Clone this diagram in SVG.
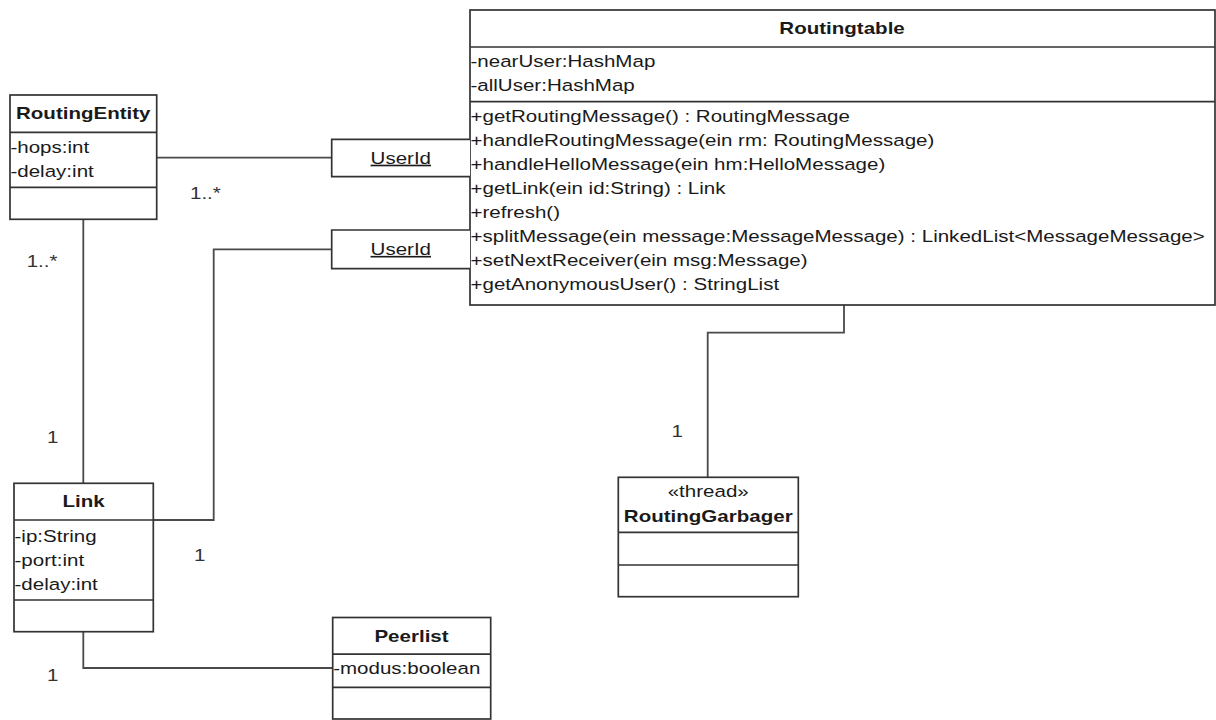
<svg xmlns="http://www.w3.org/2000/svg" width="1216" height="720" viewBox="0 0 1216 720">
  <style>
    .box { fill: #ffffff; stroke: #333333; stroke-width: 1.7; }
    .div { fill: none; stroke: #333333; stroke-width: 1.7; }
    .conn { fill: none; stroke: #4a4a4a; stroke-width: 1.8; }
    text { font-family: "Liberation Sans", Arial, sans-serif; font-size: 16.3px; fill: #1a1a1a; }
    .title { font-weight: bold; text-anchor: middle; }
    .mid { text-anchor: middle; }
    .mult { fill: #333333; }
    .ul { text-decoration: underline; }
  </style>
  <rect x="0" y="0" width="1216" height="720" fill="#ffffff"/>

  <!-- associations -->
  <g id="connectors">
    <path class="conn" d="M156.7 157.7 H331.7"/>
    <path class="conn" d="M83.3 219.3 V483.3"/>
    <path class="conn" d="M153.3 520 H213.7 V249.3 H331.7"/>
    <path class="conn" d="M83.3 631.7 V668 H332.7"/>
    <path class="conn" d="M844 305 V332.7 H707.7 V477.3"/>
    <g transform="scale(1.26 1)">
      <text class="mult" x="150.8" y="199">1..*</text>
      <text class="mult" x="21.2" y="267.5">1..*</text>
      <text class="mult" x="37.3" y="443.5">1</text>
      <text class="mult" x="154" y="561">1</text>
      <text class="mult" x="37.3" y="681">1</text>
      <text class="mult" x="533" y="437.5">1</text>
    </g>
  </g>

  <!-- Routingtable -->
  <g id="routingtable">
    <rect class="box" x="470" y="10" width="745" height="295"/>
    <path class="div" d="M470 47 H1215 M470 101.7 H1215"/>
    <g transform="scale(1.26 1)">
      <text class="title" x="668.3" y="34.3">Routingtable</text>
      <text x="373.4" y="67.4">-nearUser:HashMap</text>
      <text x="373.4" y="91.4">-allUser:HashMap</text>
      <text x="373.4" y="122">+getRoutingMessage() : RoutingMessage</text>
      <text x="373.4" y="146">+handleRoutingMessage(ein rm: RoutingMessage)</text>
      <text x="373.4" y="170">+handleHelloMessage(ein hm:HelloMessage)</text>
      <text x="373.4" y="194">+getLink(ein id:String) : Link</text>
      <text x="373.4" y="218">+refresh()</text>
      <text x="373.4" y="242">+splitMessage(ein message:MessageMessage) : LinkedList&lt;MessageMessage&gt;</text>
      <text x="373.4" y="266">+setNextReceiver(ein msg:Message)</text>
      <text x="373.4" y="290">+getAnonymousUser() : StringList</text>
    </g>
  </g>

  <!-- qualifier boxes on Routingtable -->
  <g id="qualifier-userid-1">
    <path class="box" d="M470 139.3 H331.7 V176.7 H470"/>
    <g transform="scale(1.26 1)">
      <text class="mid ul" x="318.1" y="163.8">UserId</text>
    </g>
  </g>
  <g id="qualifier-userid-2">
    <path class="box" d="M470 230 H331.7 V268.7 H470"/>
    <g transform="scale(1.26 1)">
      <text class="mid ul" x="318.1" y="255">UserId</text>
    </g>
  </g>

  <!-- RoutingEntity -->
  <g id="routingentity">
    <rect class="box" x="10" y="95" width="146.7" height="124.3"/>
    <path class="div" d="M10 132.3 H156.7 M10 187.3 H156.7"/>
    <g transform="scale(1.26 1)">
      <text class="title" x="66.1" y="119">RoutingEntity</text>
      <text x="8.3" y="152.7">-hops:int</text>
      <text x="8.3" y="176.7">-delay:int</text>
    </g>
  </g>

  <!-- Link -->
  <g id="link">
    <rect class="box" x="14" y="483.3" width="139.3" height="148.4"/>
    <path class="div" d="M14 520 H153.3 M14 600 H153.3"/>
    <g transform="scale(1.26 1)">
      <text class="title" x="66.4" y="506.7">Link</text>
      <text x="11.5" y="541.7">-ip:String</text>
      <text x="11.5" y="565.7">-port:int</text>
      <text x="11.5" y="589.7">-delay:int</text>
    </g>
  </g>

  <!-- Peerlist -->
  <g id="peerlist">
    <rect class="box" x="332.7" y="617.5" width="158" height="101.5"/>
    <path class="div" d="M332.7 654.2 H490.7 M332.7 687.3 H490.7"/>
    <g transform="scale(1.26 1)">
      <text class="title" x="326.6" y="641.7">Peerlist</text>
      <text x="264.4" y="674">-modus:boolean</text>
    </g>
  </g>

  <!-- RoutingGarbager -->
  <g id="routinggarbager">
    <rect class="box" x="618.3" y="477.3" width="180" height="119.4"/>
    <path class="div" d="M618.3 532.3 H798.3 M618.3 565 H798.3"/>
    <g transform="scale(1.26 1)">
      <text class="mid" x="562.1" y="497">«thread»</text>
      <text class="title" x="562.1" y="521.7">RoutingGarbager</text>
    </g>
  </g>
</svg>
